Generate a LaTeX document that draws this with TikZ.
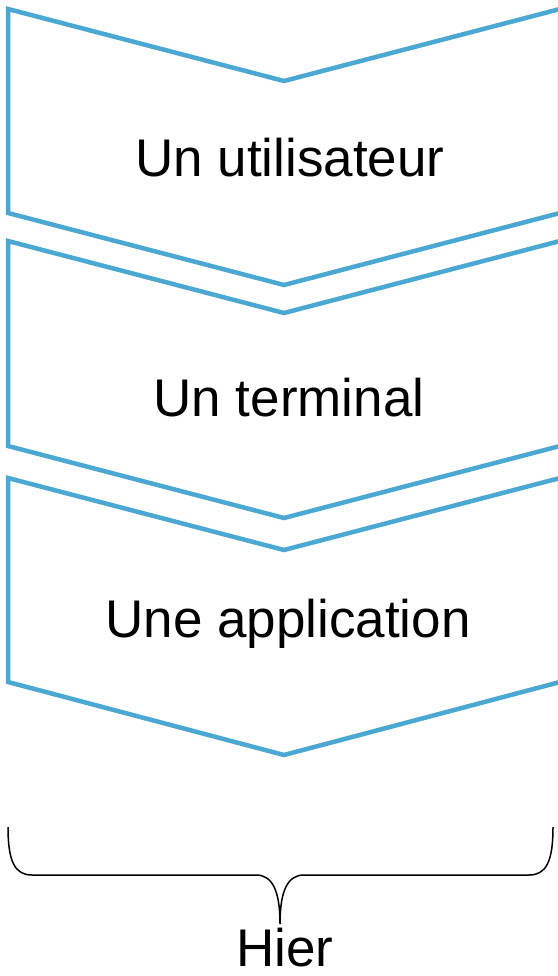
\documentclass[tikz,border=0pt]{standalone}
\usepackage{fontspec}
\setmainfont{Liberation Sans}
\definecolor{chevblue}{RGB}{74,168,210}
\tikzset{
  chev/.style={draw=chevblue, line width=4.5pt, line join=miter},
  lbl/.style={anchor=base, inner sep=0pt, font=\fontsize{53}{60}\selectfont},
  bracestyle/.style={draw=black, line width=1.5pt}
}
\begin{document}
\begin{tikzpicture}[x=1pt,y=-1pt]
\useasboundingbox (0,0) rectangle (557,976);
% chevrons
\draw[chev] (8,9) -- (284,81) -- (560,9) -- (560,213) -- (284,285) -- (8,213) -- cycle;
\draw[chev] (8,241) -- (284,313) -- (560,241) -- (560,446) -- (284,518) -- (8,446) -- cycle;
\draw[chev] (8,478) -- (284,550) -- (560,478) -- (560,682) -- (284,755) -- (8,682) -- cycle;
% labels
\node[lbl] (t1) at (290,177) {Un utilisateur};
\node[lbl] (t2) at (289,416) {Un terminal};
\node[lbl] (t3) at (288,637) {Une application};
\node[lbl] (hier) at (285,966) {Hier};
% brace
\coordinate (bl) at (8,827);
\coordinate (br) at (553,827);
\coordinate (bc) at (280,924);
\draw[bracestyle] (bl) .. controls (8,862) and (15,875) .. (32,875)
  -- (256,875) .. controls (272,875) and (280,890) .. (bc)
  .. controls (280,890) and (288,875) .. (304,875)
  -- (529,875) .. controls (546,875) and (553,862) .. (br);
\end{tikzpicture}
\end{document}
